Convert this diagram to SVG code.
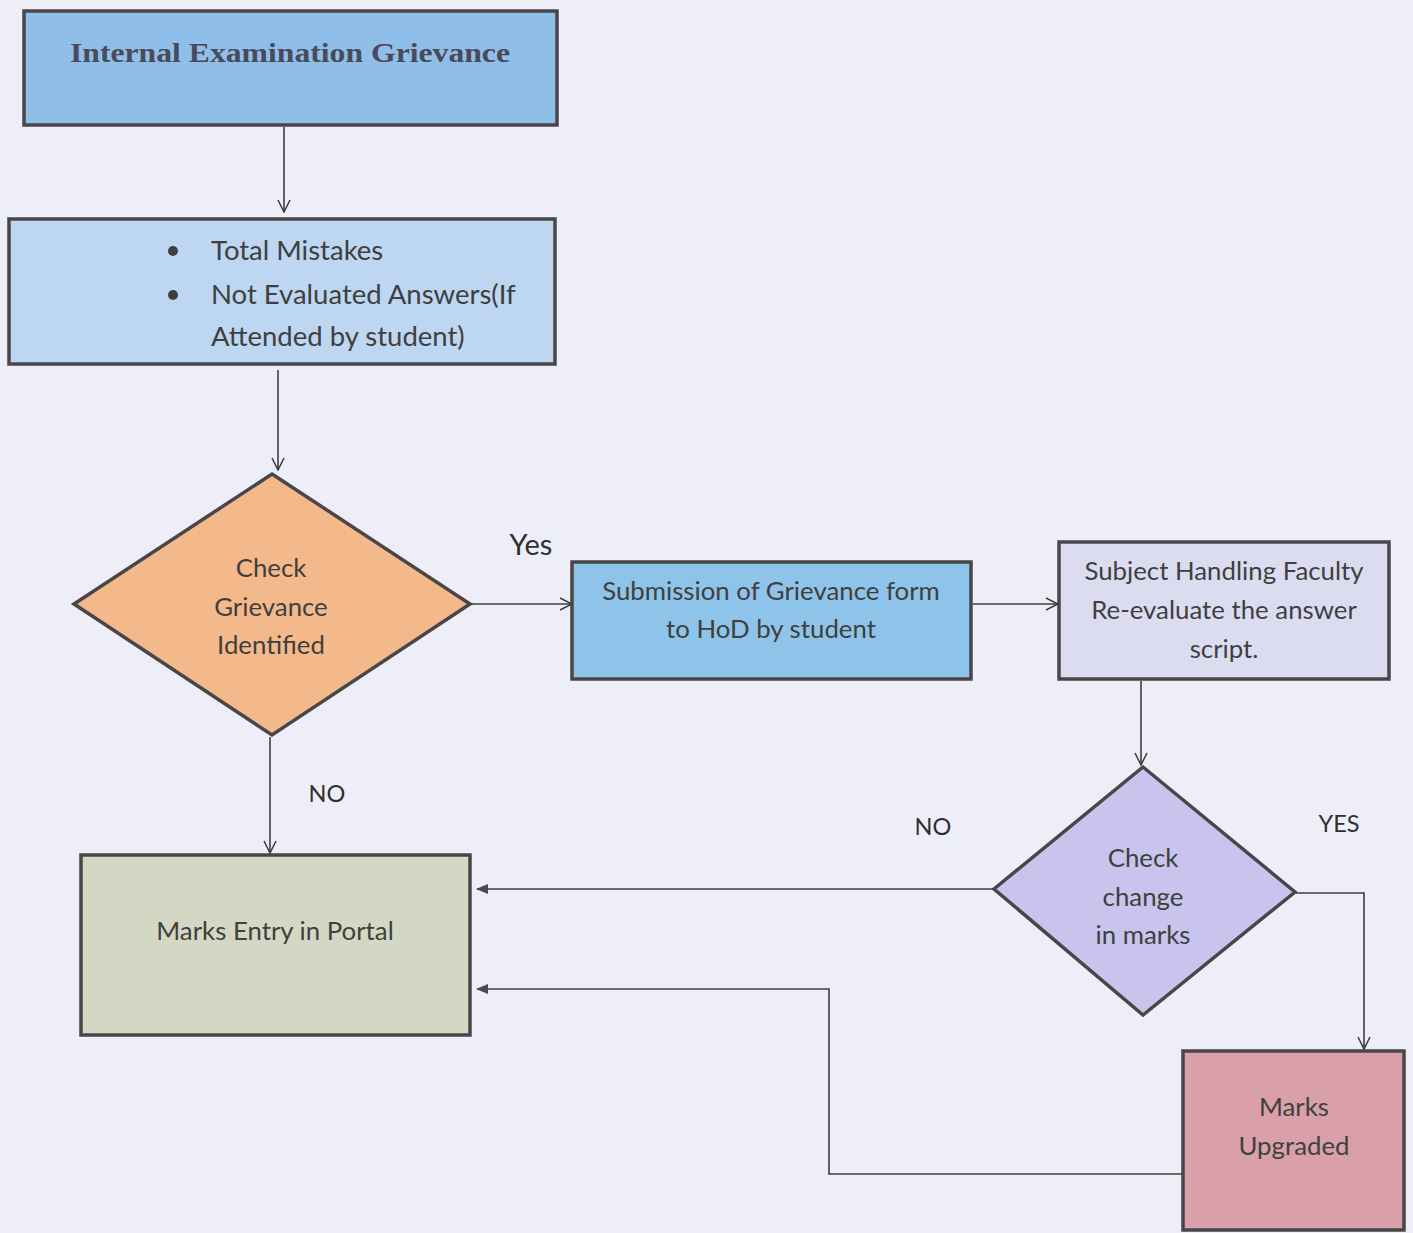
<svg xmlns="http://www.w3.org/2000/svg" width="1413" height="1233" viewBox="0 0 1413 1233">
<defs>
<marker id="open" viewBox="0 0 14 14" refX="13" refY="7" markerWidth="14" markerHeight="14" markerUnits="userSpaceOnUse" orient="auto">
<path d="M1,1 L13,7 L1,13" fill="none" stroke="#3a3a3a" stroke-width="1.5"/>
</marker>
<marker id="solid" viewBox="0 0 12 10" refX="11" refY="5" markerWidth="12" markerHeight="10" markerUnits="userSpaceOnUse" orient="auto">
<path d="M0,0 L12,5 L0,10 Z" fill="#4a4a55"/>
</marker>
</defs>
<style>
.box{stroke:#4a4548;stroke-width:3.5}
.t{font-family:Lato,"Open Sans","Liberation Sans",sans-serif;font-size:25.8px;fill:#3f3f3f;text-anchor:middle}
.tl{font-family:Lato,"Open Sans","Liberation Sans",sans-serif;font-size:27.5px;fill:#3f3f3f}
.lab{font-family:Lato,"Open Sans","Liberation Sans",sans-serif;font-size:23.5px;fill:#2f2f2f;text-anchor:middle}
.title{font-family:"Liberation Serif","DejaVu Serif",serif;font-weight:bold;font-size:27px;fill:#4a4a5a;text-anchor:middle}
.c{fill:none;stroke:#3f3f3f;stroke-width:1.6}
</style>
<rect width="1413" height="1233" fill="#eeeef8"/>

<g id="node-title">
<rect class="box" x="24" y="11" width="533" height="114" fill="#8fbfe9"/>
<text class="title" x="290" y="62" textLength="440" lengthAdjust="spacingAndGlyphs">Internal Examination Grievance</text>
</g>

<g id="node-criteria">
<rect class="box" x="9" y="219" width="546" height="145" fill="#bdd6f1"/>
<circle cx="173" cy="251" r="5" fill="#3f3f3f"/>
<circle cx="173" cy="295" r="5" fill="#3f3f3f"/>
<text class="tl" x="211" y="260">Total Mistakes</text>
<text class="tl" x="211" y="304">Not Evaluated Answers(If</text>
<text class="tl" x="211" y="346">Attended by student)</text>
</g>

<g id="node-check-grievance">
<polygon class="box" points="272,474 470,604 272,735 74,604" fill="#f3b98b"/>
<text class="t" x="271" y="577">Check</text>
<text class="t" x="271" y="616">Grievance</text>
<text class="t" x="271" y="654">Identified</text>
</g>

<g id="node-submission">
<rect class="box" x="572" y="562" width="399" height="117" fill="#8ec4ea"/>
<text class="t" x="771" y="600">Submission of Grievance form</text>
<text class="t" x="771" y="638">to HoD by student</text>
</g>

<g id="node-reevaluate">
<rect class="box" x="1059" y="542" width="330" height="137" fill="#dcdcf1"/>
<text class="t" x="1224" y="580">Subject Handling Faculty</text>
<text class="t" x="1224" y="619">Re-evaluate the answer</text>
<text class="t" x="1224" y="658">script.</text>
</g>

<g id="node-check-change">
<polygon class="box" points="1143,767 1295,892 1143,1015 994,889" fill="#c8c4ed"/>
<text class="t" x="1143" y="867">Check</text>
<text class="t" x="1143" y="906">change</text>
<text class="t" x="1143" y="944">in marks</text>
</g>

<g id="node-marks-entry">
<rect class="box" x="81" y="855" width="389" height="180" fill="#d4d7c4"/>
<text class="t" x="275" y="940">Marks Entry in Portal</text>
</g>

<g id="node-marks-upgraded">
<rect class="box" x="1183" y="1051" width="221" height="179" fill="#d9a0a9"/>
<text class="t" x="1294" y="1116">Marks</text>
<text class="t" x="1294" y="1155">Upgraded</text>
</g>

<g id="connectors">
<path class="c" d="M284,127 V212" marker-end="url(#open)"/>
<path class="c" d="M278,370 V470" marker-end="url(#open)"/>
<path class="c" d="M471,604 H572" marker-end="url(#open)"/>
<path class="c" d="M973,604 H1058" marker-end="url(#open)"/>
<path class="c" d="M1141,681 V765" marker-end="url(#open)"/>
<path class="c" d="M270,737 V853" marker-end="url(#open)"/>
<path class="c" d="M1296,893 H1364 V1049" marker-end="url(#open)"/>
<path class="c" d="M993,889 H477" marker-end="url(#solid)"/>
<path class="c" d="M1182,1174 H829 V989 H477" marker-end="url(#solid)"/>
</g>

<g id="labels">
<text class="lab" x="531" y="555" style="font-size:29px">Yes</text>
<text class="lab" x="327" y="802">NO</text>
<text class="lab" x="933" y="835">NO</text>
<text class="lab" x="1339" y="832">YES</text>
</g>
</svg>
